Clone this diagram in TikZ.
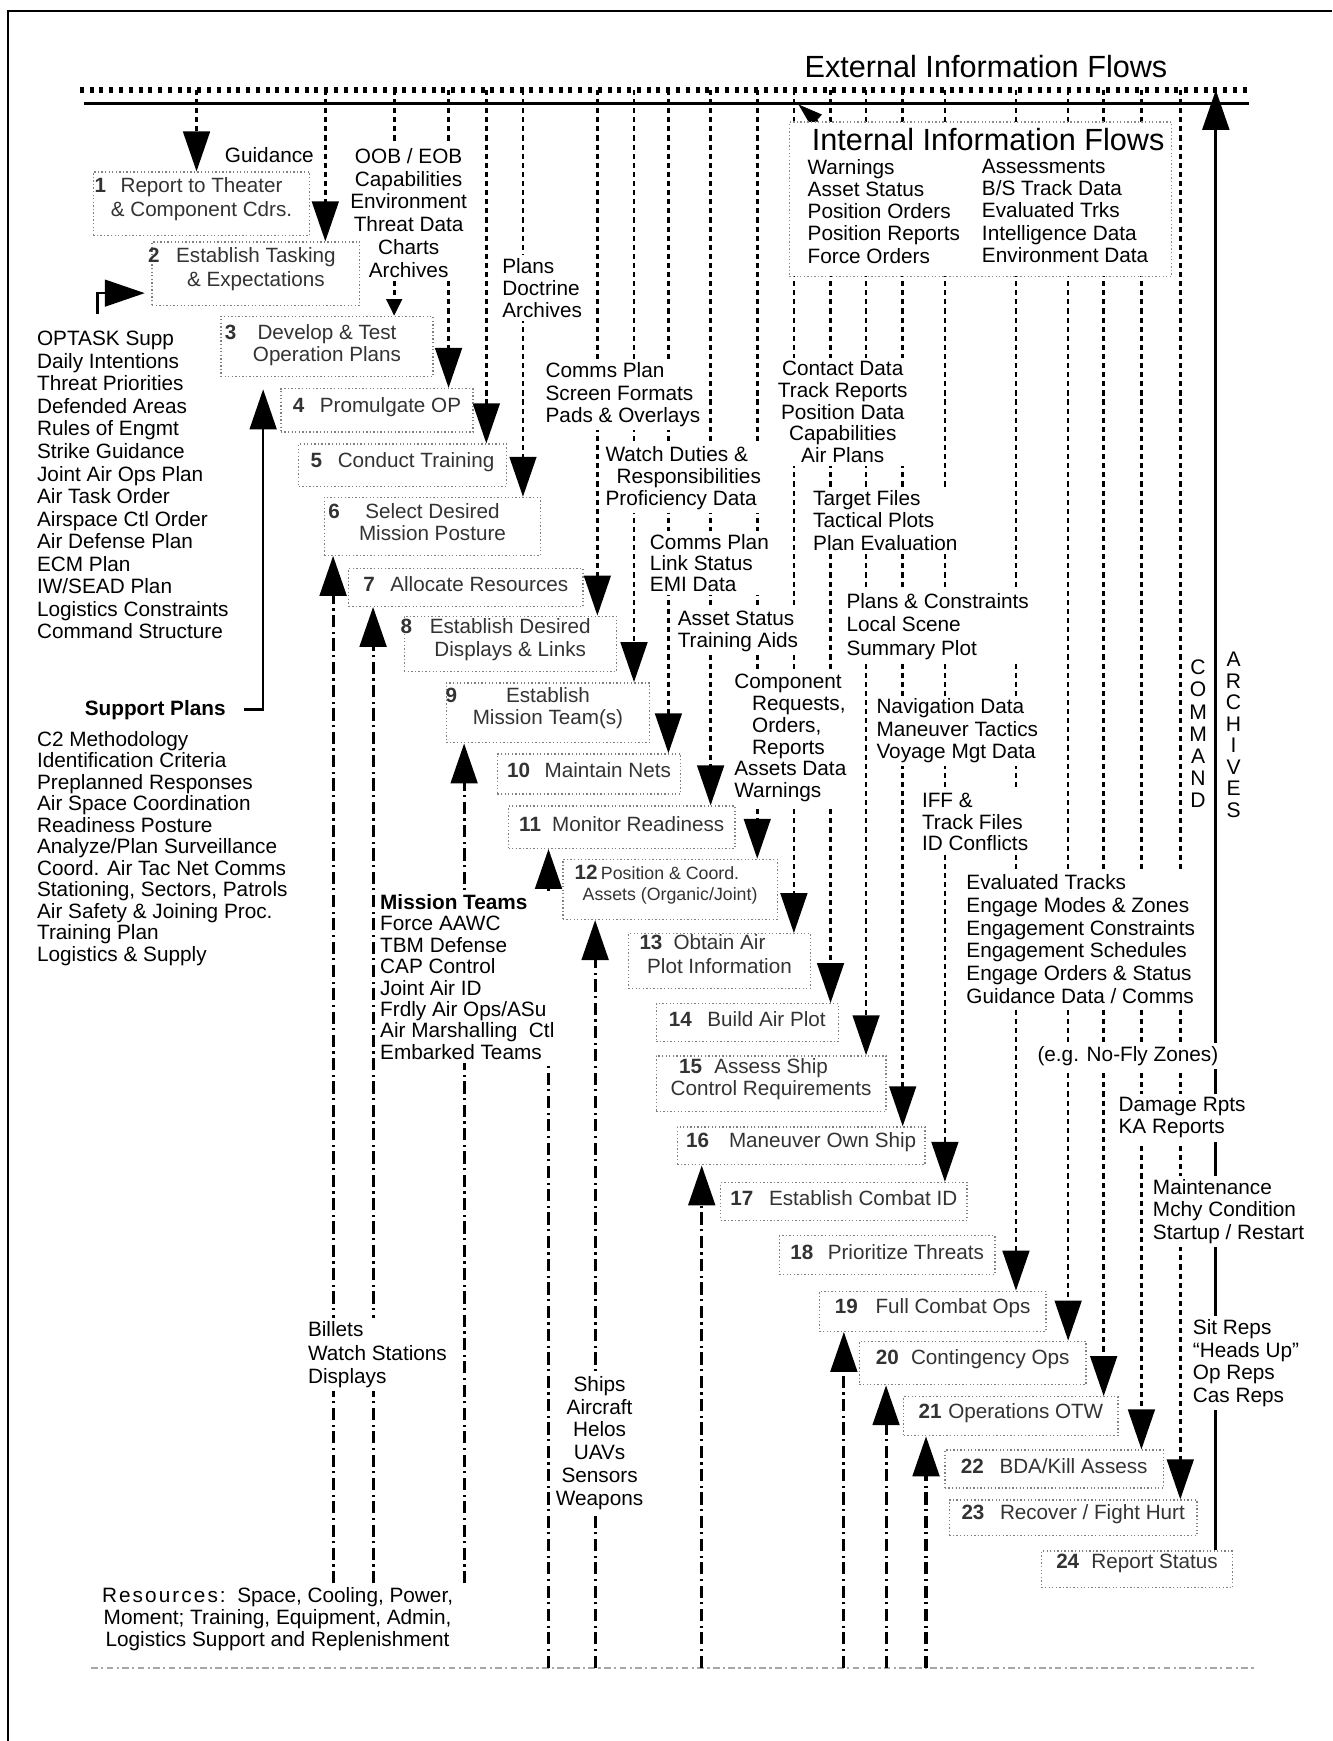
\documentclass[tikz,border=0pt]{standalone}
\usepackage{fontspec}
\setmainfont{Liberation Sans}
\usetikzlibrary{arrows.meta, fit, calc}
\pgfdeclarelayer{bg}
\pgfsetlayers{bg,main}

\tikzset{
  lbl/.style={fill=white, inner sep=1.5pt, align=left, anchor=north west,
    font=\fontsize{9.35}{10.15}\selectfont},
  procbox/.style={draw=black!50, densely dotted, line width=0.6pt, fill=white,
    inner sep=0pt},
  boxtxt/.style={align=center, text=black!80, inner sep=0pt, yshift=1.5pt,
    font=\fontsize{9.3}{10}\selectfont},
  boxtxt2/.style={boxtxt, yshift=0.5pt},
  flow/.style={line width=1.2pt, dash pattern=on 2.3pt off 1.8pt,
    -{Triangle[width=12pt,length=18pt]}},
  upflow/.style={line width=1.4pt, dash pattern=on 5.5pt off 2pt on 1pt off 2pt,
    -{Triangle[width=12pt,length=18pt]}},
  feed/.style={line width=1.2pt, -{Triangle[width=12pt,length=18pt]}},
  vword/.style={align=center, anchor=north, inner sep=1pt},
}

\begin{document}
\begin{tikzpicture}[x=0.5pt, y=-0.5pt]
\useasboundingbox (0,0) rectangle (1200,1568);

\node[font=\fontsize{13.8}{15}\selectfont] (ext) at (888,60) {External Information Flows};

% flow labels
\node[lbl, anchor=north east] (guid) at (286,129) {Guidance};
\node[lbl] (optask) at (30,295) {OPTASK Supp\\Daily Intentions\\Threat Priorities\\Defended Areas\\Rules of Engmt\\Strike Guidance\\Joint Air Ops Plan\\Air Task Order\\Airspace Ctl Order\\Air Defense Plan\\ECM Plan\\IW/SEAD Plan\\Logistics Constraints\\Command Structure};
\node[lbl] (supp) at (73,627) {\textbf{Support Plans}};
\node[lbl, font=\fontsize{9.35}{9.7}\selectfont] (supplist) at (30,655) {C2 Methodology\\Identification Criteria\\Preplanned Responses\\Air Space Coordination\\Readiness Posture\\Analyze/Plan Surveillance\\Coord. Air Tac Net Comms\\Stationing, Sectors, Patrols\\Air Safety \& Joining Proc.\\Training Plan\\Logistics \& Supply};
\node[lbl, anchor=north, align=center, font=\fontsize{9.35}{10.3}\selectfont] (oob) at (368,130) {OOB / EOB\\Capabilities\\Environment\\Threat Data\\Charts\\Archives};
\node[lbl, font=\fontsize{9.35}{10}\selectfont] (plans) at (449,229) {Plans\\Doctrine\\Archives};
\node[lbl] (comms) at (488,323) {Comms Plan\\Screen Formats\\Pads \& Overlays};
\node[lbl, anchor=north, align=center, font=\fontsize{9.35}{9.75}\selectfont] (contact) at (759,322) {Contact Data\\Track Reports\\Position Data\\Capabilities\\Air Plans};
\node[lbl, font=\fontsize{9.35}{9.75}\selectfont] (watch) at (542,399) {Watch Duties \&\\\hspace*{5pt}Responsibilities\\Proficiency Data};
\node[lbl] (target) at (729,438) {Target Files\\Tactical Plots\\Plan Evaluation};
\node[lbl, font=\fontsize{9.35}{9.5}\selectfont] (links) at (582,478) {Comms Plan\\Link Status\\EMI Data};
\node[lbl, font=\fontsize{9.35}{10.5}\selectfont] (plcons) at (759,531) {Plans \& Constraints\\Local Scene\\Summary Plot};
\node[lbl, font=\fontsize{9.35}{10}\selectfont] (asset) at (607,547) {Asset Status\\Training Aids};
\node[lbl, font=\fontsize{9.35}{9.8}\selectfont] (compo) at (658,604) {Component\\\hspace*{8pt}Requests,\\\hspace*{8pt}Orders,\\\hspace*{8pt}Reports\\Assets Data\\Warnings};
\node[lbl, font=\fontsize{9.35}{10}\selectfont] (navig) at (786,626) {Navigation Data\\Maneuver Tactics\\Voyage Mgt Data};
\node[lbl, font=\fontsize{9.35}{9.75}\selectfont] (iff) at (827,711) {IFF \&\\Track Files\\ID Conflicts};
\node[lbl, font=\fontsize{9.35}{10.3}\selectfont] (evalt) at (867,784) {Evaluated Tracks\\Engage Modes \& Zones\\Engagement Constraints\\Engagement Schedules\\Engage Orders \& Status\\Guidance Data / Comms};
\node[lbl] (nofly) at (931,939) {(e.g. No-Fly Zones)};
\node[lbl, font=\fontsize{9.35}{10}\selectfont] (damage) at (1004,985) {Damage Rpts\\KA Reports};
\node[lbl, font=\fontsize{9.35}{10}\selectfont] (maint) at (1035,1059) {Maintenance\\Mchy Condition\\Startup / Restart};
\node[lbl] (sitrep) at (1071,1185) {Sit Reps\\“Heads Up”\\Op Reps\\Cas Reps};
\node[lbl, font=\fontsize{9.35}{9.65}\selectfont] (mteams) at (339,802) {\textbf{Mission Teams}\\Force AAWC\\TBM Defense\\CAP Control\\Joint Air ID\\Frdly Air Ops/ASu\\Air Marshalling\ \ Ctl\\Embarked Teams};
\node[lbl, font=\fontsize{9.35}{10.5}\selectfont] (billets) at (274,1187) {Billets\\Watch Stations\\Displays};
\node[lbl, anchor=north, align=center, font=\fontsize{9.35}{10.3}\selectfont] (ships) at (540,1236) {Ships\\Aircraft\\Helos\\UAVs\\Sensors\\Weapons};
\node[lbl, anchor=north, align=center, font=\fontsize{9.35}{10}\selectfont] (res) at (250,1426) {{\addfontfeature{LetterSpace=10}Resources:}\ \ Space, Cooling, Power,\\Moment; Training, Equipment, Admin,\\Logistics Support and Replenishment};
\node[vword, font=\fontsize{9.5}{10}\selectfont] (cmd) at (1079,592) {C\\O\\M\\M\\A\\N\\D};
\node[vword, font=\fontsize{9.5}{9.7}\selectfont] (arch) at (1111,585) {A\\R\\C\\H\\I\\V\\E\\S};

% process steps
\node[procbox, fit={(84,155) (279,212)}, label={[boxtxt2, font=\fontsize{9.3}{11}\selectfont]center:{\llap{\textbf{1}\hspace{6.5pt}}Report to Theater\\\& Component Cdrs.}}] (p1) {};
\node[procbox, fit={(137,218) (324,275)}, label={[boxtxt2, font=\fontsize{9.3}{10.5}\selectfont]center:{\llap{\textbf{2}\hspace{7.5pt}}Establish Tasking\\\& Expectations}}] (p2) {};
\node[procbox, fit={(199,285) (390,339)}, label={[boxtxt2, yshift=-1.5pt]center:{\llap{\textbf{3}\hspace{9.5pt}}Develop \& Test\\Operation Plans}}] (p3) {};
\node[procbox, fit={(253,350) (426,389)}, label={[boxtxt]center:{\textbf{4}\hspace{7pt}Promulgate OP}}] (p4) {};
\node[procbox, fit={(269,400) (456,438)}, label={[boxtxt]center:{\textbf{5}\hspace{7pt}Conduct Training}}] (p5) {};
\node[procbox, fit={(292,448) (487,500)}, label={[boxtxt2]center:{\llap{\textbf{6}\hspace{11.5pt}}Select Desired\\Mission Posture}}] (p6) {};
\node[procbox, fit={(314,512) (525,546)}, label={[boxtxt]center:{\textbf{7}\hspace{7pt}Allocate Resources}}] (p7) {};
\node[procbox, fit={(364,555) (555,605)}, label={[boxtxt2]center:{\llap{\textbf{8}\hspace{8pt}}Establish Desired\\Displays \& Links}}] (p8) {};
\node[procbox, fit={(402,615) (585,669)}, label={[boxtxt2]center:{\llap{\textbf{9}\hspace{22pt}}Establish\\Mission Team(s)}}] (p9) {};
\node[procbox, fit={(448,679) (613,715)}, label={[boxtxt]center:{\textbf{10}\hspace{6.5pt}Maintain Nets}}] (p10) {};
\node[procbox, fit={(458,726) (662,764)}, label={[boxtxt]center:{\textbf{11}\hspace{5pt}Monitor Readiness}}] (p11) {};
\node[procbox, fit={(507,774) (700,828)}, label={[boxtxt2, font=\fontsize{8}{9.5}\selectfont]center:{\llap{\fontsize{9.3}{9.5}\selectfont\textbf{12}\hspace{1.5pt}}Position \& Coord.\\Assets (Organic/Joint)}}] (p12) {};
\node[procbox, fit={(566,841) (730,890)}, label={[boxtxt2, yshift=1pt, font=\fontsize{9.3}{11}\selectfont]center:{\llap{\textbf{13}\hspace{5pt}}Obtain Air\\Plot Information}}] (p13) {};
\node[procbox, fit={(591,904) (755,938)}, label={[boxtxt]center:{\textbf{14}\hspace{7pt}Build Air Plot}}] (p14) {};
\node[procbox, fit={(591,951) (798,1001)}, label={[boxtxt2]center:{\llap{\textbf{15}\hspace{5.5pt}}Assess Ship\\Control Requirements}}] (p15) {};
\node[procbox, fit={(610,1015) (833,1049)}, label={[boxtxt]center:{\textbf{16}\hspace{9pt}Maneuver Own Ship}}] (p16) {};
\node[procbox, fit={(649,1065) (871,1099)}, label={[boxtxt]center:{\textbf{17}\hspace{7pt}Establish Combat ID}}] (p17) {};
\node[procbox, fit={(702,1113) (896,1148)}, label={[boxtxt]center:{\textbf{18}\hspace{6.5pt}Prioritize Threats}}] (p18) {};
\node[procbox, fit={(738,1163) (942,1199)}, label={[boxtxt]center:{\textbf{19}\hspace{8pt}Full Combat Ops}}] (p19) {};
\node[procbox, fit={(774,1208) (978,1247)}, label={[boxtxt]center:{\textbf{20}\hspace{5.5pt}Contingency Ops}}] (p20) {};
\node[procbox, fit={(814,1258) (1007,1293)}, label={[boxtxt]center:{\textbf{21}\hspace{3pt}Operations OTW}}] (p21) {};
\node[procbox, fit={(851,1306) (1048,1340)}, label={[boxtxt]center:{\textbf{22}\hspace{7pt}BDA/Kill Assess}}] (p22) {};
\node[procbox, fit={(855,1351) (1078,1383)}, label={[boxtxt]center:{\textbf{23}\hspace{7pt}Recover / Fight Hurt}}] (p23) {};
\node[procbox, fit={(938,1397) (1110,1430)}, label={[boxtxt, yshift=1pt]center:{\textbf{24}\hspace{5.5pt}Report Status}}] (p24) {};

\node[procbox, draw=black!45, fit={(711,110) (1055,249)}] (iif) {};
\node[font=\fontsize{13.8}{15}\selectfont] (iiftitle) at (890,126) {Internal Information Flows};
\node[lbl, font=\fontsize{9.35}{10}\selectfont] (iifL) at (724,140) {Warnings\\Asset Status\\Position Orders\\Position Reports\\Force Orders};
\node[lbl, font=\fontsize{9.35}{10}\selectfont] (iifR) at (881,140) {Assessments\\B/S Track Data\\Evaluated Trks\\Intelligence Data\\Environment Data};

\begin{pgfonlayer}{bg}
\draw[line width=0.9pt] (7,1568) -- (7,10) -- (1200,10);
\draw[line width=2.6pt, dash pattern=on 1.8pt off 2.6pt] (72,81) coordinate (barL) -- (1125,81);
\draw[line width=1.2pt] (76,93) -- (1125,93);
\draw[black!35, line width=0.7pt, dash pattern=on 3pt off 1.5pt on 1pt off 1.5pt] (82,1502) coordinate (base) -- (1130,1502);

\draw[flow] (177,81) -- (177,0 |- p1.north);
\draw[flow] (293,81) -- (293,0 |- p2.north);
\draw[flow, -{Triangle[width=7pt,length=7.5pt]}] (355,81) -- (355,0 |- p3.north);
\draw[flow] (404,81) -- (404,0 |- p4.north);
\draw[flow] (438,81) -- (438,0 |- p5.north);
\draw[flow] (471,81) -- (471,0 |- p6.north);
\draw[flow] (538,81) -- (538,0 |- p8.north);
\draw[flow] (571,81) -- (571,0 |- p9.north);
\draw[flow] (602,81) -- (602,0 |- p10.north);
\draw[flow] (640,81) -- (640,0 |- p11.north);
\draw[flow] (682,81) -- (682,0 |- p12.north);
\draw[flow] (715,81) -- (715,0 |- p13.north);
\draw[flow] (748,81) -- (748,0 |- p14.north);
\draw[flow] (780,81) -- (780,0 |- p15.north);
\draw[flow] (813,81) -- (813,0 |- p16.north);
\draw[flow] (851,81) -- (851,0 |- p17.north);
\draw[flow] (915,81) -- (915,0 |- p19.north);
\draw[flow] (962,81) -- (962,0 |- p20.north);
\draw[flow] (994,81) -- (994,0 |- p21.north);
\draw[flow] (1028,81) -- (1028,0 |- p22.north);
\draw[flow] (1063,81) -- (1063,0 |- p23.north);

\draw[upflow] (300,0 |- res.north) -- (300,0 |- p6.south);
\draw[upflow] (336,0 |- res.north) -- (336,0 |- p7.south);
\draw[upflow] (418,0 |- res.north) -- (418,0 |- p9.south);
\draw[upflow] (494,0 |- base) -- (494,0 |- p11.south);
\draw[upflow] (536,0 |- base) -- (536,0 |- p12.south);
\draw[upflow] (632,0 |- base) -- (632,0 |- p16.south);
\draw[upflow] (760,0 |- base) -- (760,0 |- p19.south);
\draw[upflow] (798,0 |- base) -- (798,0 |- p20.south);
\draw[upflow] (834,0 |- base) -- (834,0 |- p21.south);

\draw[feed, shorten >=3pt] ($(optask.north west)+(58,-12)$) |- (p2.west |- 0,264);
\draw[feed, shorten >=5.5pt] ($(supp.east)+(13,0)$) -| (237,0 |- p3.south);
\draw[feed, line width=1.5pt] (1095,0 |- p24.north) -- (1095,0 |- barL);
\draw[line width=0.8pt, -{Triangle[width=7pt,length=11pt]}] ($(iif.north west)+(26,0)$) -- (719,94);
\end{pgfonlayer}
\end{tikzpicture}
\end{document}
